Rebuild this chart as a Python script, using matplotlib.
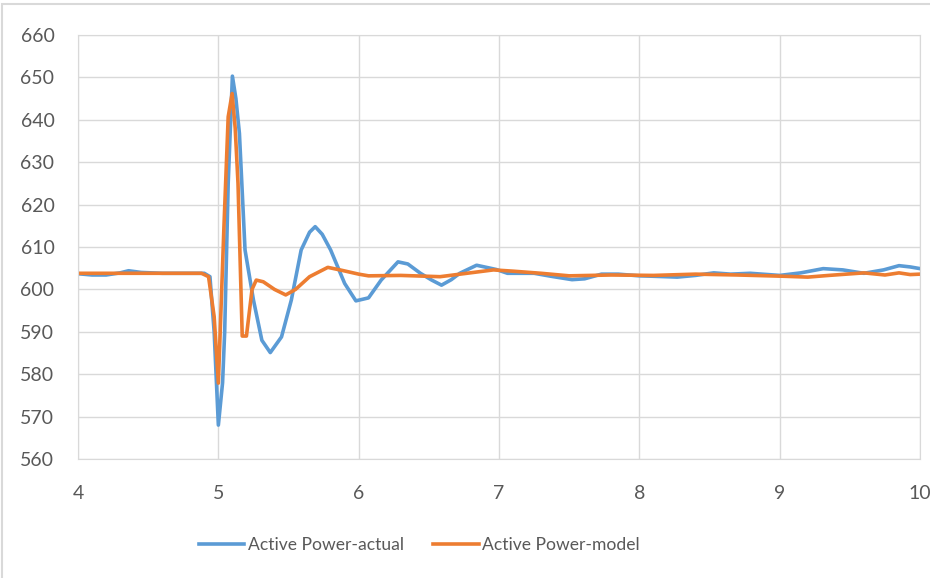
import numpy as np
import matplotlib.pyplot as plt
from matplotlib.patches import Rectangle

plt.rcParams['font.family'] = ['Lato', 'DejaVu Sans']

# Active Power-actual (blue)
t_act = [4.0, 4.1, 4.2, 4.3, 4.36, 4.45, 4.6, 4.8, 4.9, 4.94, 4.97, 5.0, 5.03, 5.045,
         5.07, 5.1, 5.125, 5.15, 5.19, 5.25, 5.31, 5.37, 5.45, 5.52, 5.59, 5.65, 5.69,
         5.74, 5.8, 5.9, 5.98, 6.07, 6.16, 6.28, 6.35, 6.44, 6.52, 6.59, 6.66, 6.72,
         6.84, 6.98, 7.06, 7.25, 7.37, 7.52, 7.61, 7.73, 7.85, 8.0, 8.1, 8.27, 8.4,
         8.53, 8.65, 8.79, 9.0, 9.15, 9.31, 9.45, 9.6, 9.74, 9.85, 9.93, 10.0]
p_act = [603.7, 603.4, 603.4, 603.9, 604.4, 604.0, 603.8, 603.8, 603.8, 603.0, 590.0,
         568.0, 578.0, 590.0, 625.0, 650.3, 645.0, 636.8, 609.3, 597.5, 588.0, 585.1,
         588.8, 597.5, 609.3, 613.5, 614.8, 613.0, 609.3, 601.4, 597.3, 598.0, 602.2,
         606.5, 606.0, 603.8, 602.2, 601.0, 602.3, 603.8, 605.7, 604.7, 603.8, 603.8,
         603.1, 602.3, 602.5, 603.6, 603.6, 603.2, 603.1, 602.9, 603.3, 603.9, 603.6,
         603.8, 603.3, 603.9, 604.9, 604.6, 603.8, 604.6, 605.6, 605.3, 604.9]

# Active Power-model (orange)
t_mod = [4.0, 4.3, 4.6, 4.88, 4.93, 4.97, 5.0, 5.04, 5.07, 5.098, 5.12, 5.14, 5.17,
         5.2, 5.24, 5.27, 5.32, 5.4, 5.48, 5.55, 5.65, 5.78, 5.88, 6.0, 6.07, 6.3,
         6.58, 6.77, 6.96, 7.1, 7.3, 7.5, 7.8, 8.1, 8.4, 8.7, 9.03, 9.2, 9.35, 9.6,
         9.75, 9.85, 9.93, 10.0]
p_mod = [603.8, 603.8, 603.8, 603.8, 603.0, 593.6, 577.9, 615.0, 640.7, 646.2, 638.0,
         625.0, 589.0, 589.0, 600.0, 602.2, 601.8, 600.0, 598.7, 600.0, 603.0, 605.2,
         604.5, 603.6, 603.2, 603.3, 603.0, 603.8, 604.6, 604.3, 603.8, 603.2, 603.4,
         603.3, 603.6, 603.4, 603.1, 602.9, 603.3, 603.9, 603.4, 603.9, 603.5, 603.6]

fig = plt.figure(figsize=(9.3, 5.78), dpi=100)
ax = fig.add_axes([0.0839, 0.2059, 0.9054, 0.7335])

ax.plot(t_act, p_act, color='#5B9BD5', lw=2.6, label='Active Power-actual',
        solid_joinstyle='round')
ax.plot(t_mod, p_mod, color='#ED7D31', lw=2.6, label='Active Power-model',
        solid_joinstyle='round')

ax.set_xlim(4, 10)
ax.set_ylim(560, 660)
ax.set_xticks(range(4, 11))
ax.set_yticks(range(560, 661, 10))
ax.grid(True, color='#D9D9D9', lw=1)
ax.set_axisbelow(True)
for s in ax.spines.values():
    s.set_color('#D9D9D9')
ax.tick_params(length=0, labelsize=14, colors='#595959')
ax.tick_params(axis='y', pad=17)
ax.tick_params(axis='x', pad=19)

fig.legend(loc='center', bbox_to_anchor=(0.451, 0.057), ncol=2, frameon=False,
           fontsize=12.6, labelcolor='#595959', handlelength=2.6, handletextpad=0.2,
           columnspacing=1.7)

fig.patches.append(Rectangle((0.002, -0.1), 1.2, 1.093, transform=fig.transFigure,
                             fill=False, edgecolor='#D9D9D9', lw=1.5))

fig.savefig('out.png', dpi=100)
